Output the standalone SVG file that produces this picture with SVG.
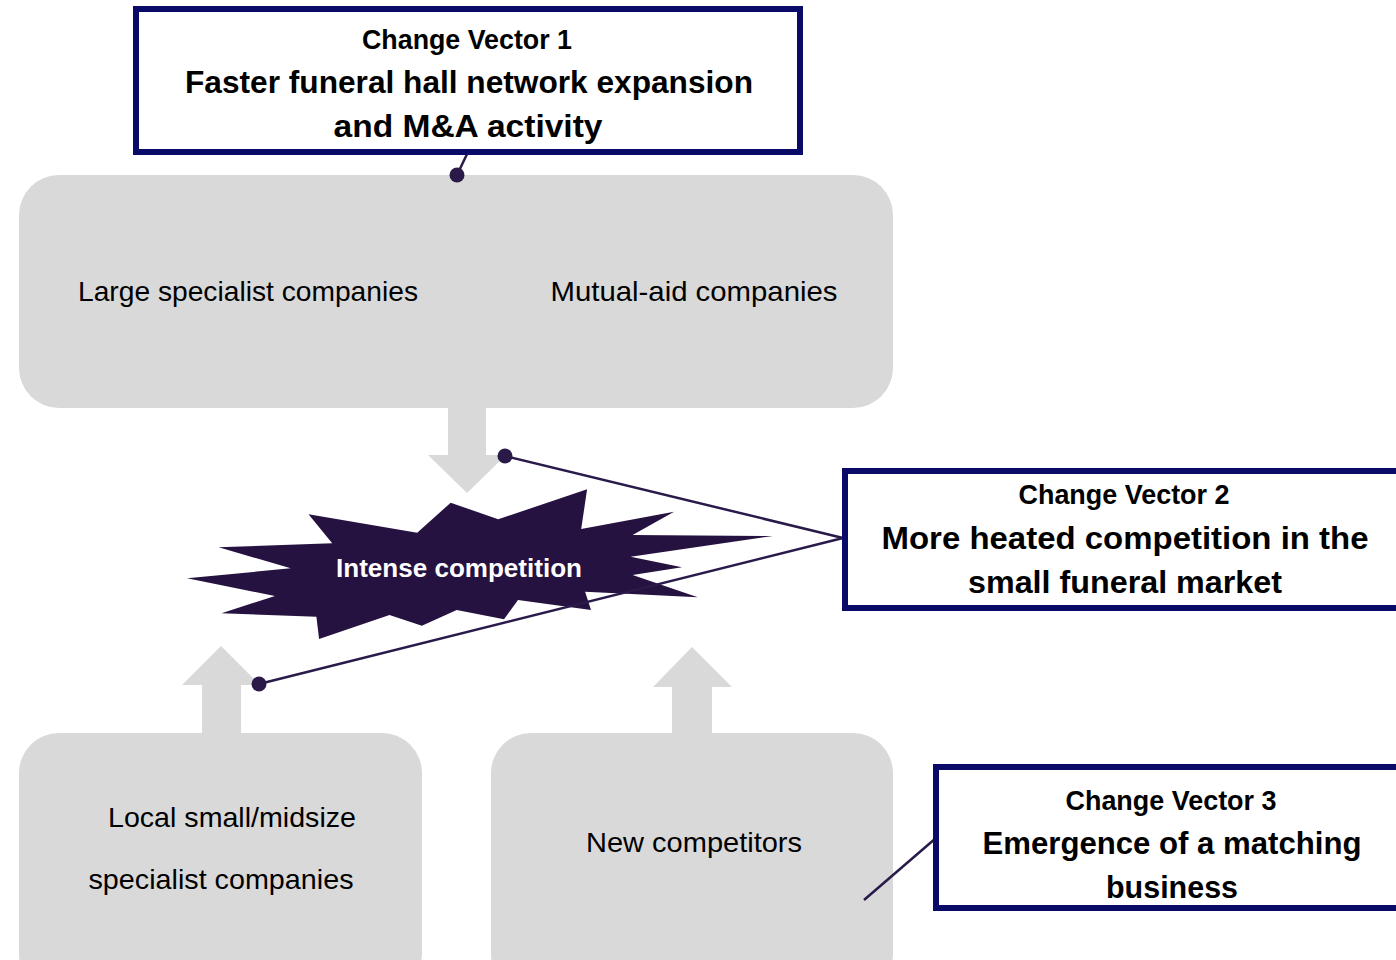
<svg xmlns="http://www.w3.org/2000/svg" width="1396" height="960" viewBox="0 0 1396 960">
<style>
.gbox{fill:#d9d9d9}
.arr{fill:#d9d9d9}
.cv{fill:#fff;stroke:#0a0a68;stroke-width:6}
.t{font-family:"Liberation Sans",Arial,sans-serif;fill:#000;text-anchor:middle}
.b{font-weight:bold}
.h{font-size:27px}
.big{font-size:32px}
.body{font-size:28px}
.conn{stroke:#2a1a4a;stroke-width:2.5;fill:none}
.dot{fill:#2a1a4a}
</style>
<rect width="1396" height="960" fill="#fff"/>
<g id="arrows">
<polygon class="arr" points="448,405 486,405 486,455 506,455 467,493 428,455 448,455"/>
<polygon class="arr" points="202,736 241,736 241,685 260,685 221,646 182,685 202,685"/>
<polygon class="arr" points="672,736 712,736 712,687 732,687 692,647 653,687 672,687"/>
</g>
<g id="node-top">
<rect class="gbox" x="19" y="175" width="874" height="233" rx="40"/>
<text class="t body" x="248" y="301" textLength="340" lengthAdjust="spacingAndGlyphs">Large specialist companies</text>
<text class="t body" x="694" y="301" textLength="287" lengthAdjust="spacingAndGlyphs">Mutual-aid companies</text>
</g>
<g id="node-local">
<rect class="gbox" x="19" y="733" width="403" height="260" rx="40"/>
<text class="t body" x="232" y="827" textLength="248" lengthAdjust="spacingAndGlyphs">Local small/midsize</text>
<text class="t body" x="221" y="889" textLength="265" lengthAdjust="spacingAndGlyphs">specialist companies</text>
</g>
<g id="node-new">
<rect class="gbox" x="491" y="733" width="402" height="260" rx="40"/>
<text class="t body" x="694" y="852" textLength="216" lengthAdjust="spacingAndGlyphs">New competitors</text>
</g>
<g id="node-burst">
<polygon fill="#261241" points="308.5,514.3 417.2,532.7 450.7,502.7 498.2,519.3 587.1,489.3 581.2,529 674.1,511.7 632.6,535 772.9,536 630.6,556.7 682,567.3 632.6,575 697.8,597.3 585.1,591.7 591,610 518,600 504,619.3 456.7,610 421.9,625.7 389.5,615 319.1,639 316.4,616.7 221.5,613.3 274.9,596 187.1,578.3 290.7,568.3 218.7,547.3 332.2,543.3"/>
<text class="t b" x="459" y="577" font-size="25" style="fill:#fff" textLength="246" lengthAdjust="spacingAndGlyphs">Intense competition</text>
</g>
<g id="connectors">
<line class="conn" x1="468" y1="152" x2="457" y2="175"/>
<circle class="dot" cx="457" cy="175" r="7.5"/>
<polyline class="conn" points="505,456 843,538 259,684"/>
<circle class="dot" cx="505" cy="456" r="7.5"/>
<circle class="dot" cx="259" cy="684" r="7.5"/>
<line class="conn" x1="936" y1="838" x2="864" y2="900"/>
</g>
<g id="cv1">
<rect class="cv" x="136" y="9" width="664" height="143"/>
<text class="t b h" x="467" y="49" textLength="210" lengthAdjust="spacingAndGlyphs">Change Vector 1</text>
<text class="t b big" x="469" y="93" textLength="568" lengthAdjust="spacingAndGlyphs">Faster funeral hall network expansion</text>
<text class="t b big" x="468" y="137" textLength="269" lengthAdjust="spacingAndGlyphs">and M&amp;A activity</text>
</g>
<g id="cv2">
<rect class="cv" x="845" y="471" width="600" height="137"/>
<text class="t b h" x="1124" y="504" textLength="211" lengthAdjust="spacingAndGlyphs">Change Vector 2</text>
<text class="t b big" x="1125" y="549" textLength="487" lengthAdjust="spacingAndGlyphs">More heated competition in the</text>
<text class="t b big" x="1125" y="593" textLength="314" lengthAdjust="spacingAndGlyphs">small funeral market</text>
</g>
<g id="cv3">
<rect class="cv" x="936" y="767" width="600" height="141"/>
<text class="t b h" x="1171" y="810" textLength="211" lengthAdjust="spacingAndGlyphs">Change Vector 3</text>
<text class="t b big" x="1172" y="854" textLength="379" lengthAdjust="spacingAndGlyphs">Emergence of a matching</text>
<text class="t b big" x="1172" y="898" textLength="132" lengthAdjust="spacingAndGlyphs">business</text>
</g>
</svg>
